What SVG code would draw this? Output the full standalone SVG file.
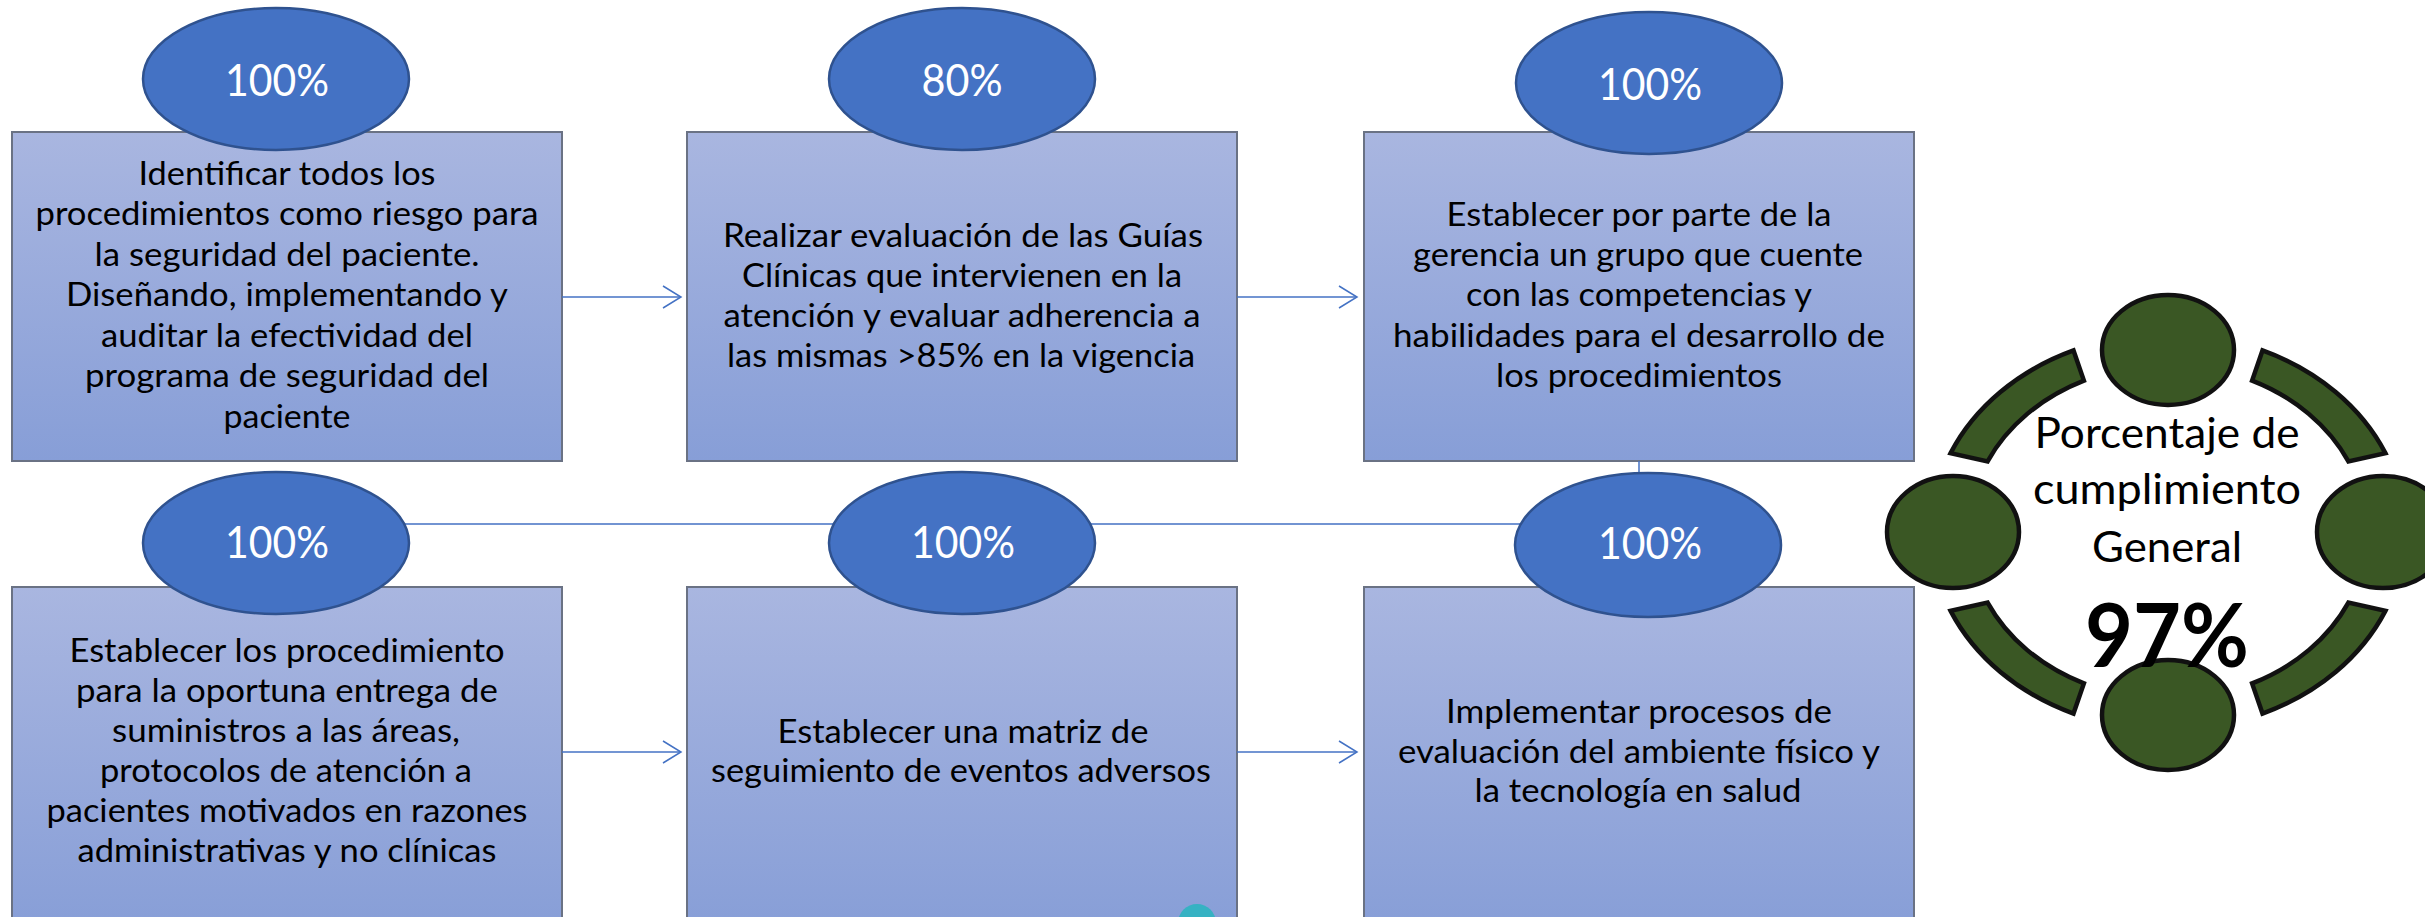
<svg xmlns="http://www.w3.org/2000/svg" width="2425" height="917" viewBox="0 0 2425 917">
<style>
.box{fill:url(#bg);stroke:#6a7284;stroke-width:2}
.ov{fill:#4472C4;stroke:#2F528F;stroke-width:2.5}
.pct{font-family:Lato,"Liberation Sans",sans-serif;font-size:45px;fill:#fff;text-anchor:middle}
.t{font-family:Lato,"Liberation Sans",sans-serif;font-size:32px;fill:#000;text-anchor:middle}
.con{fill:none;stroke:#4472C4;stroke-width:1.5}
.g{fill:#3A5724;stroke:#111;stroke-width:4.5}
.rt{font-family:Lato,"Liberation Sans",sans-serif;font-size:42px;fill:#000;text-anchor:middle}
.big{font-family:Lato,"Liberation Sans",sans-serif;font-size:88px;font-weight:bold;fill:#000;text-anchor:middle}
</style>
<defs>
<linearGradient id="bg" x1="0" y1="0" x2="0" y2="1">
<stop offset="0" stop-color="#A9B6E0"/>
<stop offset="1" stop-color="#879ED7"/>
</linearGradient>
<marker id="ah" markerUnits="userSpaceOnUse" markerWidth="24" markerHeight="26" refX="19" refY="12" orient="auto">
<path d="M1,1 L19,12 L1,23" fill="none" stroke="#4472C4" stroke-width="1.5"/>
</marker>
</defs>
<rect width="2425" height="917" fill="#fff"/>

<g id="box1"><rect class="box" x="12" y="132" width="550" height="329"/></g>
<g id="box2"><rect class="box" x="687" y="132" width="550" height="329"/></g>
<g id="box3"><rect class="box" x="1364" y="132" width="550" height="329"/></g>
<g id="box4"><rect class="box" x="12" y="587" width="550" height="345"/></g>
<g id="box5"><rect class="box" x="687" y="587" width="550" height="345"/></g>
<g id="box6"><rect class="box" x="1364" y="587" width="550" height="345"/></g>

<g id="connectors">
<line class="con" x1="562" y1="297" x2="681" y2="297" marker-end="url(#ah)"/>
<line class="con" x1="1237" y1="297" x2="1357" y2="297" marker-end="url(#ah)"/>
<path class="con" d="M1639,461 V524 H276 V587" marker-end="url(#ah)"/>
<line class="con" x1="562" y1="752" x2="681" y2="752" marker-end="url(#ah)"/>
<line class="con" x1="1237" y1="752" x2="1357" y2="752" marker-end="url(#ah)"/>
</g>

<g id="pct1"><ellipse class="ov" cx="276" cy="79" rx="133" ry="71"/><text class="pct" x="277" y="96" textLength="104" lengthAdjust="spacingAndGlyphs">100%</text></g>
<g id="pct2"><ellipse class="ov" cx="962" cy="79" rx="133" ry="71"/><text class="pct" x="962" y="96" textLength="81" lengthAdjust="spacingAndGlyphs">80%</text></g>
<g id="pct3"><ellipse class="ov" cx="1649" cy="83" rx="133" ry="71"/><text class="pct" x="1650" y="100" textLength="104" lengthAdjust="spacingAndGlyphs">100%</text></g>
<g id="pct4"><ellipse class="ov" cx="276" cy="543" rx="133" ry="71"/><text class="pct" x="277" y="558" textLength="104" lengthAdjust="spacingAndGlyphs">100%</text></g>
<g id="pct5"><ellipse class="ov" cx="962" cy="543" rx="133" ry="71"/><text class="pct" x="963" y="558" textLength="104" lengthAdjust="spacingAndGlyphs">100%</text></g>
<g id="pct6"><ellipse class="ov" cx="1648" cy="545" rx="133" ry="72"/><text class="pct" x="1650" y="559" textLength="104" lengthAdjust="spacingAndGlyphs">100%</text></g>

<g id="box1-text">
<text class="t" x="287" y="185" textLength="297" lengthAdjust="spacingAndGlyphs">Identificar todos los</text>
<text class="t" x="287" y="225" textLength="503" lengthAdjust="spacingAndGlyphs">procedimientos como riesgo para</text>
<text class="t" x="287" y="266" textLength="385" lengthAdjust="spacingAndGlyphs">la seguridad del paciente.</text>
<text class="t" x="287" y="306" textLength="442" lengthAdjust="spacingAndGlyphs">Diseñando, implementando y</text>
<text class="t" x="287" y="347" textLength="372" lengthAdjust="spacingAndGlyphs">auditar la efectividad del</text>
<text class="t" x="287" y="387" textLength="404" lengthAdjust="spacingAndGlyphs">programa de seguridad del</text>
<text class="t" x="287" y="428" textLength="127" lengthAdjust="spacingAndGlyphs">paciente</text>
</g>
<g id="box2-text">
<text class="t" x="963" y="247" textLength="480" lengthAdjust="spacingAndGlyphs">Realizar evaluación de las Guías</text>
<text class="t" x="962" y="287" textLength="440" lengthAdjust="spacingAndGlyphs">Clínicas que intervienen en la</text>
<text class="t" x="962" y="327" textLength="477" lengthAdjust="spacingAndGlyphs">atención y evaluar adherencia a</text>
<text class="t" x="961" y="367" textLength="468" lengthAdjust="spacingAndGlyphs">las mismas &gt;85% en la vigencia</text>
</g>
<g id="box3-text">
<text class="t" x="1639" y="226" textLength="385" lengthAdjust="spacingAndGlyphs">Establecer por parte de la</text>
<text class="t" x="1638" y="266" textLength="450" lengthAdjust="spacingAndGlyphs">gerencia un grupo que cuente</text>
<text class="t" x="1639" y="306" textLength="346" lengthAdjust="spacingAndGlyphs">con las competencias y</text>
<text class="t" x="1639" y="347" textLength="492" lengthAdjust="spacingAndGlyphs">habilidades para el desarrollo de</text>
<text class="t" x="1639" y="387" textLength="286" lengthAdjust="spacingAndGlyphs">los procedimientos</text>
</g>
<g id="box4-text">
<text class="t" x="287" y="662" textLength="435" lengthAdjust="spacingAndGlyphs">Establecer los procedimiento</text>
<text class="t" x="287" y="702" textLength="422" lengthAdjust="spacingAndGlyphs">para la oportuna entrega de</text>
<text class="t" x="286" y="742" textLength="348" lengthAdjust="spacingAndGlyphs">suministros a las áreas,</text>
<text class="t" x="286" y="782" textLength="372" lengthAdjust="spacingAndGlyphs">protocolos de atención a</text>
<text class="t" x="287" y="822" textLength="481" lengthAdjust="spacingAndGlyphs">pacientes motivados en razones</text>
<text class="t" x="287" y="862" textLength="419" lengthAdjust="spacingAndGlyphs">administrativas y no clínicas</text>
</g>
<g id="box5-text">
<text class="t" x="963" y="743" textLength="371" lengthAdjust="spacingAndGlyphs">Establecer una matriz de</text>
<text class="t" x="961" y="782" textLength="500" lengthAdjust="spacingAndGlyphs">seguimiento de eventos adversos</text>
</g>
<g id="box6-text">
<text class="t" x="1639" y="723" textLength="386" lengthAdjust="spacingAndGlyphs">Implementar procesos de</text>
<text class="t" x="1639" y="763" textLength="482" lengthAdjust="spacingAndGlyphs">evaluación del ambiente físico y</text>
<text class="t" x="1638" y="802" textLength="327" lengthAdjust="spacingAndGlyphs">la tecnología en salud</text>
</g>

<g id="dot"><circle cx="1197" cy="923" r="19" fill="#36B2C3"/></g>

<g id="cycle">
<path class="g" d="M1950.6,453.1 A237,198 0 0,1 2073.5,350.4 L2083.9,380.6 A199,167 0 0,0 1987.6,461.4 Z"/>
<path class="g" d="M2262.5,350.4 A237,198 0 0,1 2385.4,453.1 L2348.4,461.4 A199,167 0 0,0 2252.1,380.6 Z"/>
<path class="g" d="M2385.4,610.9 A237,198 0 0,1 2262.5,713.6 L2252.1,683.4 A199,167 0 0,0 2348.4,602.6 Z"/>
<path class="g" d="M2073.5,713.6 A237,198 0 0,1 1950.6,610.9 L1987.6,602.6 A199,167 0 0,0 2083.9,683.4 Z"/>
<ellipse class="g" cx="2168" cy="350" rx="66" ry="55"/>
<ellipse class="g" cx="1953" cy="532" rx="66" ry="56"/>
<ellipse class="g" cx="2383" cy="532" rx="66" ry="56"/>
<ellipse class="g" cx="2168" cy="715" rx="66" ry="55"/>
<text class="rt" x="2167" y="448" textLength="265" lengthAdjust="spacingAndGlyphs">Porcentaje de</text>
<text class="rt" x="2167" y="504" textLength="268" lengthAdjust="spacingAndGlyphs">cumplimiento</text>
<text class="rt" x="2167" y="562" textLength="150" lengthAdjust="spacingAndGlyphs">General</text>
<text class="big" x="2167" y="667" textLength="164" lengthAdjust="spacingAndGlyphs">97%</text>
</g>
</svg>
